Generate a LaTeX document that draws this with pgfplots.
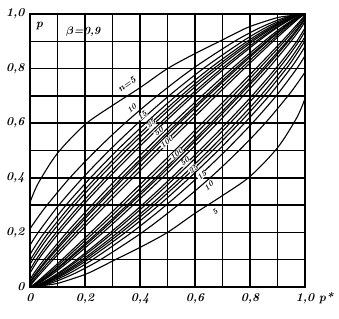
\documentclass[border=0pt]{standalone}
\usepackage{pgfplots}
\pgfplotsset{compat=1.18}
\begin{document}
\begin{tikzpicture}[x=1pt,y=1pt,
  lbl/.style={fill=white, inner sep=0.1pt, font=\fontsize{8}{8}\selectfont\bfseries\itshape, rotate=40}]
\useasboundingbox (0,0) rectangle (339,318);
\begin{axis}[
  at={(30pt,31pt)}, anchor=south west,
  width=275pt, height=273pt, scale only axis,
  xmin=0, xmax=1, ymin=0, ymax=1,
  xtick={0,0.2,0.4,0.6,0.8,1}, ytick={0,0.2,0.4,0.6,0.8,1},
  minor xtick={0.1,0.3,0.5,0.7,0.9}, minor ytick={0.1,0.3,0.5,0.7,0.9},
  xticklabels={0,{0,2},{0,4},{0,6},{0,8},{1,0}},
  yticklabels={0,{0,2},{0,4},{0,6},{0,8},{1,0}},
  grid=both,
  major grid style={black, line width=1.5pt},
  minor grid style={black, line width=1.5pt},
  axis line style={black, line width=1.7pt},
  major tick length=0pt, minor tick length=0pt,
  tick label style={font=\fontsize{12}{12}\selectfont\bfseries\itshape},
  xticklabel style={yshift=-3pt},
  yticklabel style={xshift=-2pt},
  curve/.style={black, line width=1.1pt, smooth, no markers},
]
% upper limits
\addplot[curve] coordinates {(0,0.31)(0.03,0.38)(0.1,0.49)(0.2,0.595)(0.3,0.665)(0.4,0.73)(0.5,0.8)(0.6,0.855)(0.69,0.9)(0.79,0.95)(0.877,0.98)(0.917,0.99)(1,1)};
\addplot[curve] coordinates {(0,0.213)(0.025,0.25)(0.062,0.3)(0.145,0.4)(0.24,0.5)(0.345,0.6)(0.462,0.7)(0.592,0.8)(0.744,0.9)(0.837,0.95)(0.907,0.98)(0.938,0.99)(1,1)};
\addplot[curve] coordinates {(0,0.153)(0.03,0.2)(0.105,0.3)(0.192,0.4)(0.288,0.5)(0.392,0.6)(0.505,0.7)(0.63,0.8)(0.773,0.9)(0.857,0.95)(0.92,0.98)(0.948,0.99)(1,1)};
\addplot[curve] coordinates {(0,0.119)(0.019,0.15)(0.053,0.2)(0.131,0.3)(0.22,0.4)(0.316,0.5)(0.42,0.6)(0.531,0.7)(0.653,0.8)(0.79,0.9)(0.87,0.95)(0.929,0.98)(0.953,0.99)(1,1)};
\addplot[curve] coordinates {(0,0.098)(0.033,0.15)(0.068,0.2)(0.149,0.3)(0.239,0.4)(0.336,0.5)(0.439,0.6)(0.549,0.7)(0.668,0.8)(0.801,0.9)(0.878,0.95)(0.934,0.98)(0.957,0.99)(1,1)};
\addplot[curve] coordinates {(0,0.083)(0.01,0.1)(0.043,0.15)(0.08,0.2)(0.162,0.3)(0.253,0.4)(0.35,0.5)(0.453,0.6)(0.562,0.7)(0.68,0.8)(0.81,0.9)(0.885,0.95)(0.938,0.98)(0.96,0.99)(1,1)};
\addplot[curve] coordinates {(0,0.063)(0.022,0.1)(0.057,0.15)(0.096,0.2)(0.181,0.3)(0.273,0.4)(0.37,0.5)(0.473,0.6)(0.581,0.7)(0.696,0.8)(0.822,0.9)(0.893,0.95)(0.944,0.98)(0.964,0.99)(1,1)};
\addplot[curve] coordinates {(0,0.051)(0.03,0.1)(0.067,0.15)(0.107,0.2)(0.193,0.3)(0.286,0.4)(0.384,0.5)(0.486,0.6)(0.593,0.7)(0.707,0.8)(0.83,0.9)(0.899,0.95)(0.947,0.98)(0.967,0.99)(1,1)};
\addplot[curve] coordinates {(0,0.026)(0.014,0.05)(0.051,0.1)(0.134,0.2)(0.225,0.3)(0.319,0.4)(0.418,0.5)(0.519,0.6)(0.625,0.7)(0.734,0.8)(0.851,0.9)(0.914,0.95)(0.957,0.98)(0.974,0.99)(1,1)};
\addplot[curve] coordinates {(0,0.018)(0.021,0.05)(0.06,0.1)(0.146,0.2)(0.239,0.3)(0.334,0.4)(0.433,0.5)(0.534,0.6)(0.639,0.7)(0.746,0.8)(0.86,0.9)(0.921,0.95)(0.961,0.98)(0.977,0.99)(1,1)};
\addplot[curve] coordinates {(0,0.013)(0.004,0.02)(0.025,0.05)(0.065,0.1)(0.154,0.2)(0.247,0.3)(0.343,0.4)(0.442,0.5)(0.543,0.6)(0.647,0.7)(0.754,0.8)(0.865,0.9)(0.925,0.95)(0.964,0.98)(0.978,0.99)(1,1)};
\addplot[curve] coordinates {(0,0.007)(0.002,0.01)(0.009,0.02)(0.032,0.05)(0.075,0.1)(0.167,0.2)(0.262,0.3)(0.36,0.4)(0.459,0.5)(0.56,0.6)(0.662,0.7)(0.767,0.8)(0.875,0.9)(0.932,0.95)(0.969,0.98)(0.982,0.99)(1,1)};
\addplot[curve] coordinates {(0,0.003)(0.005,0.01)(0.013,0.02)(0.039,0.05)(0.084,0.1)(0.179,0.2)(0.276,0.3)(0.375,0.4)(0.474,0.5)(0.575,0.6)(0.676,0.7)(0.779,0.8)(0.884,0.9)(0.939,0.95)(0.973,0.98)(0.985,0.99)(1,1)};
% lower limits
\addplot[curve] coordinates {(1,0.69)(0.97,0.62)(0.9,0.51)(0.8,0.405)(0.7,0.335)(0.6,0.27)(0.5,0.2)(0.4,0.145)(0.31,0.1)(0.21,0.05)(0.123,0.02)(0.083,0.01)(0,0)};
\addplot[curve] coordinates {(1,0.787)(0.975,0.75)(0.938,0.7)(0.855,0.6)(0.76,0.5)(0.655,0.4)(0.538,0.3)(0.408,0.2)(0.256,0.1)(0.163,0.05)(0.093,0.02)(0.062,0.01)(0,0)};
\addplot[curve] coordinates {(1,0.847)(0.97,0.8)(0.895,0.7)(0.808,0.6)(0.712,0.5)(0.608,0.4)(0.495,0.3)(0.37,0.2)(0.227,0.1)(0.143,0.05)(0.08,0.02)(0.052,0.01)(0,0)};
\addplot[curve] coordinates {(1,0.881)(0.981,0.85)(0.947,0.8)(0.869,0.7)(0.78,0.6)(0.684,0.5)(0.58,0.4)(0.469,0.3)(0.347,0.2)(0.21,0.1)(0.13,0.05)(0.071,0.02)(0.047,0.01)(0,0)};
\addplot[curve] coordinates {(1,0.902)(0.967,0.85)(0.932,0.8)(0.851,0.7)(0.761,0.6)(0.664,0.5)(0.561,0.4)(0.451,0.3)(0.332,0.2)(0.199,0.1)(0.122,0.05)(0.066,0.02)(0.043,0.01)(0,0)};
\addplot[curve] coordinates {(1,0.917)(0.99,0.9)(0.957,0.85)(0.92,0.8)(0.838,0.7)(0.747,0.6)(0.65,0.5)(0.547,0.4)(0.438,0.3)(0.32,0.2)(0.19,0.1)(0.115,0.05)(0.062,0.02)(0.04,0.01)(0,0)};
\addplot[curve] coordinates {(1,0.937)(0.978,0.9)(0.943,0.85)(0.904,0.8)(0.819,0.7)(0.727,0.6)(0.63,0.5)(0.527,0.4)(0.419,0.3)(0.304,0.2)(0.178,0.1)(0.107,0.05)(0.056,0.02)(0.036,0.01)(0,0)};
\addplot[curve] coordinates {(1,0.949)(0.97,0.9)(0.933,0.85)(0.893,0.8)(0.807,0.7)(0.714,0.6)(0.616,0.5)(0.514,0.4)(0.407,0.3)(0.293,0.2)(0.17,0.1)(0.101,0.05)(0.053,0.02)(0.033,0.01)(0,0)};
\addplot[curve] coordinates {(1,0.974)(0.986,0.95)(0.949,0.9)(0.866,0.8)(0.775,0.7)(0.681,0.6)(0.582,0.5)(0.481,0.4)(0.375,0.3)(0.266,0.2)(0.149,0.1)(0.086,0.05)(0.043,0.02)(0.026,0.01)(0,0)};
\addplot[curve] coordinates {(1,0.982)(0.979,0.95)(0.94,0.9)(0.854,0.8)(0.761,0.7)(0.666,0.6)(0.567,0.5)(0.466,0.4)(0.361,0.3)(0.254,0.2)(0.14,0.1)(0.079,0.05)(0.039,0.02)(0.023,0.01)(0,0)};
\addplot[curve] coordinates {(1,0.987)(0.996,0.98)(0.975,0.95)(0.935,0.9)(0.846,0.8)(0.753,0.7)(0.657,0.6)(0.558,0.5)(0.457,0.4)(0.353,0.3)(0.246,0.2)(0.135,0.1)(0.075,0.05)(0.036,0.02)(0.022,0.01)(0,0)};
\addplot[curve] coordinates {(1,0.993)(0.998,0.99)(0.991,0.98)(0.968,0.95)(0.925,0.9)(0.833,0.8)(0.738,0.7)(0.64,0.6)(0.541,0.5)(0.44,0.4)(0.338,0.3)(0.233,0.2)(0.125,0.1)(0.068,0.05)(0.031,0.02)(0.018,0.01)(0,0)};
\addplot[curve] coordinates {(1,0.997)(0.995,0.99)(0.987,0.98)(0.961,0.95)(0.916,0.9)(0.821,0.8)(0.724,0.7)(0.625,0.6)(0.526,0.5)(0.425,0.4)(0.324,0.3)(0.221,0.2)(0.116,0.1)(0.061,0.05)(0.027,0.02)(0.015,0.01)(0,0)};
% labels
\node[lbl, rotate=-5, font=\fontsize{9.5}{9.5}\selectfont\bfseries\itshape] at (axis cs:0.352,0.742) {n=5};
\node[lbl] at (axis cs:0.37,0.655) {10};
\node[lbl] at (axis cs:0.408,0.628) {15};
\node[lbl] at (axis cs:0.44,0.598) {25};
\node[lbl] at (axis cs:0.468,0.568) {50};
\node[lbl] at (axis cs:0.497,0.532) {100};
\node[lbl] at (axis cs:0.533,0.488) {100};
\node[lbl] at (axis cs:0.563,0.458) {50};
\node[lbl] at (axis cs:0.594,0.432) {25};
\node[lbl] at (axis cs:0.625,0.408) {15};
\node[lbl] at (axis cs:0.65,0.37) {10};
\node[lbl] at (axis cs:0.673,0.276) {5};
\node[font=\fontsize{12}{12}\selectfont\bfseries\itshape] at (axis cs:0.034,0.955) {p};
\node[font=\fontsize{11}{11}\selectfont\bfseries\itshape] at (axis cs:0.194,0.935) {{\boldmath$\beta$}=0,9};
\end{axis}
\node[font=\fontsize{12}{12}\selectfont\bfseries\itshape] at (326,20) {p*};
\end{tikzpicture}
\end{document}
